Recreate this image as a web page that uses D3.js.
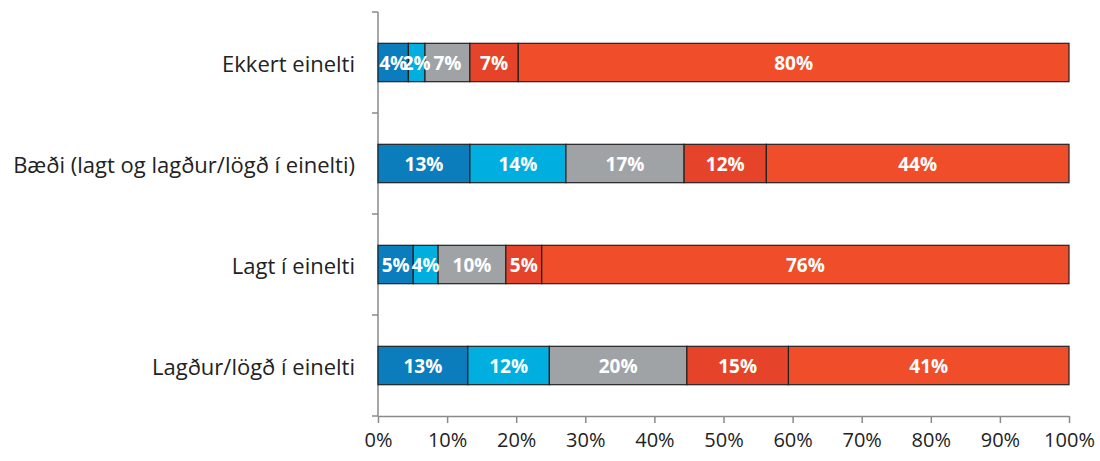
<!DOCTYPE html>
<html><head><meta charset="utf-8">
<script src="https://cdn.jsdelivr.net/npm/d3@7"></script>
<style>body{margin:0;background:#fff;}svg{display:block;}</style>
</head><body>
<svg id="chart" width="1100" height="461"></svg>
<script>
const categories = ["Ekkert einelti", "Bæði (lagt og lagður/lögð í einelti)", "Lagt í einelti", "Lagður/lögð í einelti"];
const seriesKeys = ["s1", "s2", "s3", "s4", "s5"];
const s1 = [4.4, 13.3, 5.1, 13.0];
const s2 = [2.4, 13.9, 3.6, 11.8];
const s3 = [6.5, 17.1, 9.8, 19.9];
const s4 = [7.0, 11.9, 5.2, 14.7];
const s5 = [79.7, 43.8, 76.3, 40.6];
const colors = ["#0b7dbd", "#00afe0", "#9fa3a6", "#e6442a", "#f04d2a"];
const xTicks = [0, 10, 20, 30, 40, 50, 60, 70, 80, 90, 100];

const rows = categories.map((c, i) => ({cat: c, s1: s1[i], s2: s2[i], s3: s3[i], s4: s4[i], s5: s5[i]}));
const stack = d3.stack().keys(seriesKeys)(rows);

const svg = d3.select("#chart");
const mLeft = 378, mRight = 1069, mTop = 12, mBottom = 416;
const x = d3.scaleLinear().domain([0, 100]).range([mLeft, mRight]);
const y = d3.scaleBand().domain(categories).range([mTop, mBottom]).paddingInner(0.62).paddingOuter(0.31);
const yOuter = d3.scaleBand().domain(categories).range([mTop, mBottom]);

const axisColor = "#8a8a8a";
svg.append("line").attr("x1", mLeft).attr("x2", mLeft).attr("y1", mTop).attr("y2", mBottom).attr("stroke", axisColor).attr("stroke-width", 1.5);
const yBounds = categories.map(c => yOuter(c)).concat([mBottom]);
svg.selectAll(".ytick").data(yBounds).enter().append("line")
  .attr("x1", mLeft - 6).attr("x2", mLeft).attr("y1", d => d).attr("y2", d => d)
  .attr("stroke", axisColor).attr("stroke-width", 1.5);

svg.selectAll(".cat").data(categories).enter().append("text")
  .attr("x", mLeft - 23).attr("y", d => y(d) + y.bandwidth() / 2)
  .attr("text-anchor", "end").attr("dominant-baseline", "central")
  .attr("font-family", "'Open Sans', sans-serif").attr("font-size", 22).attr("fill", "#222")
  .text(d => d);

const xAxis = d3.axisBottom(x).tickValues(xTicks).tickFormat(d => d + "%").tickSize(7).tickSizeOuter(0);
const gx = svg.append("g").attr("transform", `translate(0,${mBottom})`).call(xAxis);
gx.select(".domain").attr("stroke", axisColor).attr("stroke-width", 1.5);
gx.selectAll(".tick line").attr("stroke", axisColor).attr("stroke-width", 1.5);
gx.selectAll(".tick text").attr("font-family", "'Open Sans', sans-serif").attr("font-size", 20).attr("fill", "#222").attr("dy", "1.05em");

const g = svg.append("g");
stack.forEach((layer, li) => {
  g.append("g").selectAll("rect").data(layer).enter().append("rect")
    .attr("x", d => x(d[0])).attr("width", d => x(d[1]) - x(d[0]))
    .attr("y", d => y(d.data.cat)).attr("height", y.bandwidth())
    .attr("fill", colors[li]).attr("stroke", "#222").attr("stroke-width", 1.2);
});
stack.forEach((layer, li) => {
  g.append("g").selectAll("text").data(layer).enter().append("text")
    .attr("x", d => (x(d[0]) + x(d[1])) / 2)
    .attr("y", d => y(d.data.cat) + y.bandwidth() / 2)
    .attr("text-anchor", "middle").attr("dominant-baseline", "central")
    .attr("font-family", "'Open Sans', sans-serif").attr("font-weight", "bold").attr("font-size", 19)
    .attr("fill", "#fff")
    .text(d => Math.round(d[1] - d[0]) + "%");
});
</script>
</body></html>
